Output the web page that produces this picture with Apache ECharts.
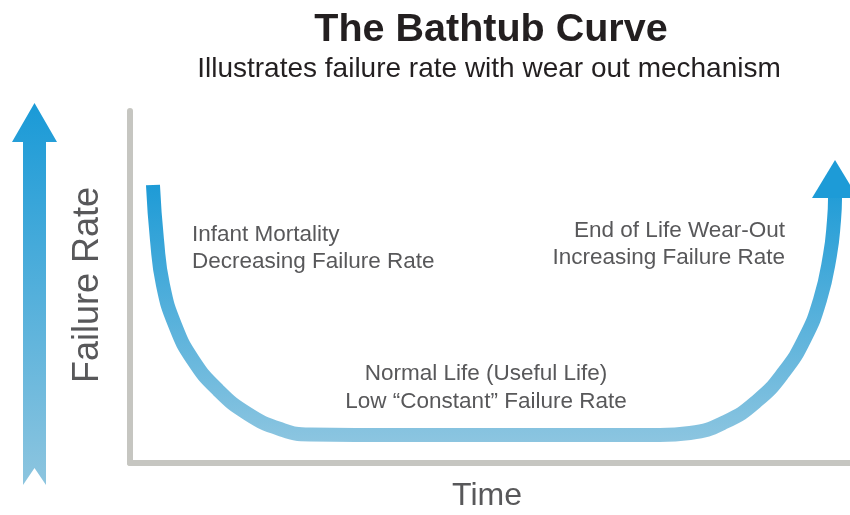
<!DOCTYPE html>
<html>
<head>
<meta charset="utf-8">
<script src="https://cdn.jsdelivr.net/npm/echarts@6/dist/echarts.min.js"></script>
<style>
html,body{margin:0;padding:0;background:#fff;}
#c{width:850px;height:515px;}
</style>
</head>
<body>
<div id="c"></div>
<script>
// Data (Time 0-100, Failure rate 0-100)
var timeVals = [3.19, 3.75, 4.58, 6.25, 8.75, 12.22, 16.39, 20.83, 25.0,
                37.5, 58.3, 73.6,
                77.78, 82.64, 87.08, 90.83, 93.75, 95.83, 97.22, 97.78, 97.92];
var rateVals = [78.98, 63.35, 50.57, 39.2, 29.26, 20.74, 13.92, 9.66, 8.1,
                7.95, 7.95, 7.95,
                8.52, 11.65, 17.61, 25.85, 35.51, 46.31, 59.09, 69.03, 75.28];
var titleText = 'The Bathtub Curve';
var subtitleText = 'Illustrates failure rate with wear out mechanism';
var yAxisName = 'Failure Rate';
var xAxisName = 'Time';
var infantLabel = ['Infant Mortality', 'Decreasing Failure Rate'];
var normalLabel = ['Normal Life (Useful Life)', 'Low \u201CConstant\u201D Failure Rate'];
var wearoutLabel = ['End of Life Wear-Out', 'Increasing Failure Rate'];

var chart = echarts.init(document.getElementById('c'), null, {renderer: 'canvas'});
var FONT = '"Liberation Sans", Arial, Helvetica, sans-serif';

var curveData = timeVals.map(function (t, i) {
  var item = { value: [t, rateVals[i]] };
  if (i === timeVals.length - 1) {
    item.symbol = 'triangle';
    item.symbolSize = [46, 38];
    item.symbolOffset = [0, -19];
    item.itemStyle = { color: '#1d9bd7', borderWidth: 0 };
  }
  return item;
});

var axisLineStyle = { color: '#c6c6c1', width: 6 };

var option = {
  animation: false,
  backgroundColor: '#ffffff',
  title: [
    { text: titleText, left: 486, top: 5, textAlign: 'center',
      textStyle: { fontFamily: FONT, fontSize: 39.5, fontWeight: 'bold', color: '#231f20' } },
    { text: subtitleText, left: 484, top: 50, textAlign: 'center',
      textStyle: { fontFamily: FONT, fontSize: 28, fontWeight: 'normal', color: '#231f20' } }
  ],
  grid: { left: 130, right: 0, top: 111, bottom: 52 },
  xAxis: {
    type: 'value', min: 0, max: 100,
    axisLine: { show: true, lineStyle: axisLineStyle },
    axisTick: { show: false }, axisLabel: { show: false }, splitLine: { show: false }
  },
  yAxis: {
    type: 'value', min: 0, max: 100,
    axisLine: { show: true, lineStyle: axisLineStyle },
    axisTick: { show: false }, axisLabel: { show: false }, splitLine: { show: false }
  },
  series: [{
    type: 'line',
    data: curveData,
    smooth: 0.5,
    symbol: 'none',
    showAllSymbol: true,
    silent: true,
    lineStyle: {
      width: 14,
      cap: 'butt',
      join: 'round',
      color: new echarts.graphic.LinearGradient(0, 0, 0, 1, [
        { offset: 0, color: '#1b9ad6' },
        { offset: 1, color: '#8cc5e0' }
      ])
    },
    z: 3
  }],
  graphic: [
    {
      type: 'polygon',
      shape: { points: [[34.5, 103], [57, 142], [46, 142], [46, 485], [34.5, 468], [23, 485], [23, 142], [12, 142]] },
      style: {
        fill: new echarts.graphic.LinearGradient(0, 0, 0, 1, [
          { offset: 0, color: '#1a9ad7' },
          { offset: 1, color: '#8dc5df' }
        ])
      }
    },
    {
      type: 'text', x: 88, y: 285, rotation: Math.PI / 2,
      style: { text: yAxisName, font: 'normal 36px ' + FONT, fill: '#58585a', align: 'center', verticalAlign: 'middle' }
    },
    {
      type: 'text', x: 487, y: 496,
      style: { text: xAxisName, font: 'normal 32px ' + FONT, fill: '#58585a', align: 'center', verticalAlign: 'middle' }
    },
    {
      type: 'text', x: 192, y: 248,
      style: { text: infantLabel.join('\n'), font: 'normal 22.5px ' + FONT, lineHeight: 27, fill: '#58585a', align: 'left', verticalAlign: 'middle' }
    },
    {
      type: 'text', x: 785, y: 244,
      style: { text: wearoutLabel.join('\n'), font: 'normal 22.5px ' + FONT, lineHeight: 27, fill: '#58585a', align: 'right', verticalAlign: 'middle' }
    },
    {
      type: 'text', x: 486, y: 388,
      style: { text: normalLabel.join('\n'), font: 'normal 22.5px ' + FONT, lineHeight: 28, fill: '#58585a', align: 'center', verticalAlign: 'middle' }
    }
  ]
};
chart.setOption(option);
</script>
</body>
</html>
